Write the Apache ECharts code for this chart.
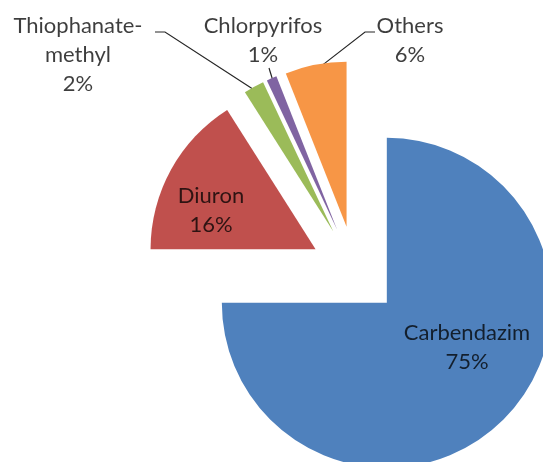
<!DOCTYPE html>
<html>
<head>
<meta charset="utf-8">
<script src="https://cdn.jsdelivr.net/npm/echarts@6/dist/echarts.min.js"></script>
<style>
  html, body { margin: 0; padding: 0; background: #ffffff; }
  #chart { width: 543px; height: 462px; }
</style>
</head>
<body>
<div id="chart"></div>
<script>
// Pesticide share of detections (%)
const categories = ['Carbendazim', 'Diuron', 'Thiophanate-methyl', 'Chlorpyrifos', 'Others'];
const shares = [75, 16, 2, 1, 6];
const sliceColors = ['#4F81BD', '#C0504D', '#9BBB59', '#8064A2', '#F79646'];

// Label block centres; outside labels also get the point where their leader meets the text
const labelCentres = [[467, 347], [211, 210], [78, 55], [263, 40], [410, 40]];
const leaderEnds = [null, null, [155, 32], [269, 68], [375, 32]];
const leaderElbows = [null, null, [165, 32], [269, 68], [365, 32]];

const pieCentre = [355, 271];
const pieRadius = 165;
const explode = 45;

const chart = echarts.init(document.getElementById('chart'), null, { renderer: 'canvas' });

const total = shares.reduce((a, b) => a + b, 0);

// One series per slice: every series holds the whole data set so the angles
// stay the same, but only its own slice is painted, and the series centre is
// pushed out along that slice's bisector to explode it.
let cumulative = 0;
const series = categories.map((name, k) => {
  const mid = (cumulative + shares[k] / 2) / total * Math.PI * 2;
  cumulative += shares[k];
  const cx = pieCentre[0] + explode * Math.sin(mid);
  const cy = pieCentre[1] - explode * Math.cos(mid);
  return {
    type: 'pie',
    center: [cx, cy],
    radius: pieRadius,
    startAngle: 90,
    clockwise: true,
    silent: true,
    emphasis: { disabled: true },
    avoidLabelOverlap: false,
    data: categories.map((n, i) => ({
      name: n,
      value: shares[i],
      itemStyle: { color: i === k ? sliceColors[i] : 'rgba(0,0,0,0)' },
      label: { show: i === k },
      labelLine: { show: i === k && leaderEnds[i] !== null }
    })),
    label: {
      position: 'outside',
      fontFamily: 'Lato',
      fontSize: 22,
      lineHeight: 29,
      color: 'rgba(0,0,0,0.76)',
      align: 'center',
      formatter: p => p.name.replace('-', '-\n') + '\n' + p.value + '%'
    },
    labelLine: {
      length: 0,
      length2: 0,
      lineStyle: { color: '#262626', width: 1.2 }
    },
    labelLayout: p => {
      const i = p.dataIndex;
      const out = {
        x: labelCentres[i][0],
        y: labelCentres[i][1],
        align: 'center',
        verticalAlign: 'middle'
      };
      if (leaderEnds[i] && p.labelLinePoints) {
        // start just inside the slice's outer arc, on its bisector
        const a = p.labelLinePoints[0];
        const inward = 5 / pieRadius;
        const sx = a[0] - (a[0] - cx) * inward;
        const sy = a[1] - (a[1] - cy) * inward;
        out.labelLinePoints = [[sx, sy], leaderElbows[i].slice(), leaderEnds[i].slice()];
      }
      return out;
    }
  };
});

chart.setOption({
  animation: false,
  backgroundColor: '#ffffff',
  series: series
});
</script>
</body>
</html>
